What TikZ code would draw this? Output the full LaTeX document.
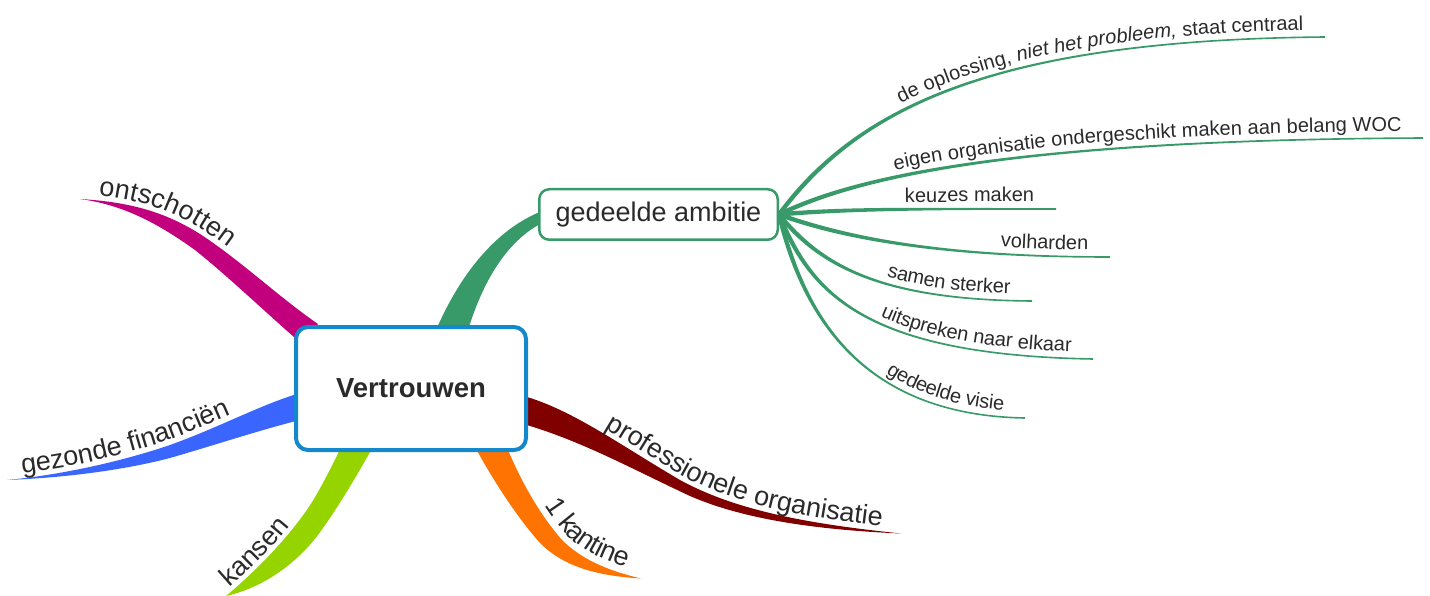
\documentclass[tikz,border=0pt]{standalone}
\usepackage{fontspec}
\setmainfont{Liberation Sans}
\usetikzlibrary{calc,decorations.text,backgrounds}
\definecolor{vblue}{HTML}{1388CC}
\definecolor{brgreen}{HTML}{389A68}
\definecolor{brmag}{HTML}{C2007E}
\definecolor{brblue}{HTML}{3A66FF}
\definecolor{brlime}{HTML}{96D400}
\definecolor{brorange}{HTML}{FF7300}
\definecolor{brred}{HTML}{800000}
\definecolor{txt}{HTML}{2A2A2A}
\newcommand\fsub{\fontsize{20}{24}\selectfont}
\newcommand\fmain{\fontsize{27}{31}\selectfont}
% tapered sub-branch: #1 start, #2 #3 controls, #4 end
\newcommand\subbr[4]{%
  \fill[brgreen] ($#1!2.2pt!90:#2$) .. controls ($#2!2.2pt!-90:#1$) and ($#3!0.8pt!90:#4$) .. ($#4!0.8pt!-90:#3$)
    -- ($#4!0.8pt!90:#3$) .. controls ($#3!0.8pt!-90:#4$) and ($#2!2.2pt!90:#1$) .. ($#1!2.2pt!-90:#2$) -- cycle;}
\tikzset{
  mainbox/.style={draw=vblue, line width=4pt, fill=white, rounded corners=12pt,
    minimum width=230pt, minimum height=123pt, inner sep=0pt, text=txt,
    font=\fontsize{27.5}{32}\selectfont\bfseries},
  ambbox/.style={draw=brgreen, line width=2.5pt, fill=white, rounded corners=10pt,
    minimum width=238.5pt, minimum height=50.5pt, inner sep=0pt, text=txt,
    font=\fontsize{27}{32}\selectfont},
  subtxt/.style={decorate, decoration={text along path, text color=txt, raise=7pt,
    text align={right, right indent=22pt}}},
  maintxt/.style={decorate, decoration={text along path, text color=txt, raise=5pt}},
}
\begin{document}
\begin{tikzpicture}[x=1pt,y=-1pt]
\useasboundingbox (0,0) rectangle (1430,596);
\node[mainbox] (v) at (411,388.5) {Vertrouwen};
\node[ambbox] (a) at (658.5,214.5) {gedeelde ambitie};
\coordinate (tipO) at (80,199);
\coordinate (tipG) at (7,480);
\coordinate (tipK) at (226,596);
\coordinate (tipC) at (641,578.5);
\coordinate (tipP) at (901,533.5);
\begin{pgfonlayer}{background}
% main branches
\fill[brgreen] ($(v.north)+(25,5)$) .. controls (460,275) and (495,230) .. ($(a.west)+(3,-3)$)
  -- ($(a.west)+(3,9)$) .. controls (510,240) and (485,275) .. ($(v.north)+(57,5)$) -- cycle;
\fill[brmag] (tipO) .. controls (130,202) and (165,212) .. (200,234) .. controls (240,260) and (280,298) .. (318,324)
  -- (302,344) .. controls (265,312) and (230,278) .. (195,250) .. controls (160,225) and (125,205) .. (tipO) -- cycle;
\fill[brblue] (tipG) .. controls (60,475) and (120,462) .. (170,445) .. controls (220,427) and (260,405) .. (300,393)
  -- (300,420) .. controls (260,430) and (215,445) .. (170,458) .. controls (120,471) and (60,478) .. (tipG) -- cycle;
\fill[brlime] (tipK) .. controls (262,566) and (300,525) .. (318,492) .. controls (328,474) and (335,460) .. (342,445)
  -- (374,445) .. controls (360,470) and (340,505) .. (318,535) .. controls (295,565) and (262,588) .. (tipK) -- cycle;
\fill[brorange] (474,445) .. controls (490,475) and (515,515) .. (540,543) .. controls (565,568) and (600,576) .. (tipC)
  -- (tipC) .. controls (605,570) and (580,558) .. (562,540) .. controls (540,515) and (520,480) .. (506,445) -- cycle;
\fill[brred] (520,395) .. controls (570,408) and (620,445) .. (680,480) .. controls (740,513) and (820,525) .. (tipP)
  .. controls (820,530) and (745,520) .. (690,496) .. controls (630,468) and (580,440) .. (520,423) -- cycle;
% sub-branches
\subbr{(a.east)}{(860,105)}{(1000,40)}{(1325,37)}
\subbr{(a.east)}{(850,180)}{(1000,140)}{(1423,138)}
\subbr{(a.east)}{(850,208)}{(950,209)}{(1056,209)}
\subbr{(a.east)}{(850,240)}{(950,257)}{(1110,257)}
\subbr{(a.east)}{(820,265)}{(880,300)}{(1032,301)}
\subbr{(a.east)}{(810,290)}{(860,355)}{(1093,359)}
\subbr{(a.east)}{(800,300)}{(850,415)}{(1025,418)}
\end{pgfonlayer}
% sub-branch texts
\path[subtxt, decoration={text={|\fsub|de oplossing{,} |\fsub\itshape|niet het probleem{,}|\fsub| staat centraal}}]
  (a.east) .. controls (860,105) and (1000,40) .. (1325,37);
\path[subtxt, decoration={text={|\fsub|eigen organisatie ondergeschikt maken aan belang WOC}}]
  (a.east) .. controls (850,180) and (1000,140) .. (1423,138);
\path[subtxt, decoration={text={|\fsub|keuzes maken}}]
  (a.east) .. controls (850,208) and (950,209) .. (1056,209);
\path[subtxt, decoration={text={|\fsub|volharden}}]
  (a.east) .. controls (850,240) and (950,257) .. (1110,257);
\path[subtxt, decoration={text={|\fsub|samen sterker}}]
  (a.east) .. controls (820,265) and (880,300) .. (1032,301);
\path[subtxt, decoration={text={|\fsub|uitspreken naar elkaar}}]
  (a.east) .. controls (810,290) and (860,355) .. (1093,359);
\path[subtxt, decoration={text={|\fsub|gedeelde visie}}]
  (a.east) .. controls (800,300) and (850,415) .. (1025,418);
% main branch texts
\path[maintxt, decoration={text align={left, left indent=18pt}, text={|\fmain|ontschotten}}]
  (tipO) .. controls (130,202) and (165,212) .. (200,234) .. controls (240,260) and (280,298) .. (318,324);
\path[maintxt, decoration={text align={left, left indent=16pt}, text={|\fmain|gezonde financiën}}]
  (tipG) .. controls (60,475) and (120,462) .. (170,445) .. controls (220,427) and (260,405) .. (300,393);
\path[maintxt, decoration={text align={left, left indent=8pt}, raise=4pt, text={|\fmain|kansen}}]
  (tipK) .. controls (262,566) and (300,525) .. (318,492) .. controls (328,474) and (335,460) .. (342,445);
\path[maintxt, decoration={text align={right, right indent=18pt}, raise=7pt, text={|\fmain|1 kantine}}]
  (506,445) .. controls (520,480) and (540,515) .. (562,540) .. controls (580,558) and (605,570) .. (tipC);
\path[maintxt, decoration={text align={right, right indent=20pt}, text={|\fmain|professionele organisatie}}]
  (520,395) .. controls (570,408) and (620,445) .. (680,480) .. controls (740,513) and (820,525) .. (tipP);
\end{tikzpicture}
\end{document}
